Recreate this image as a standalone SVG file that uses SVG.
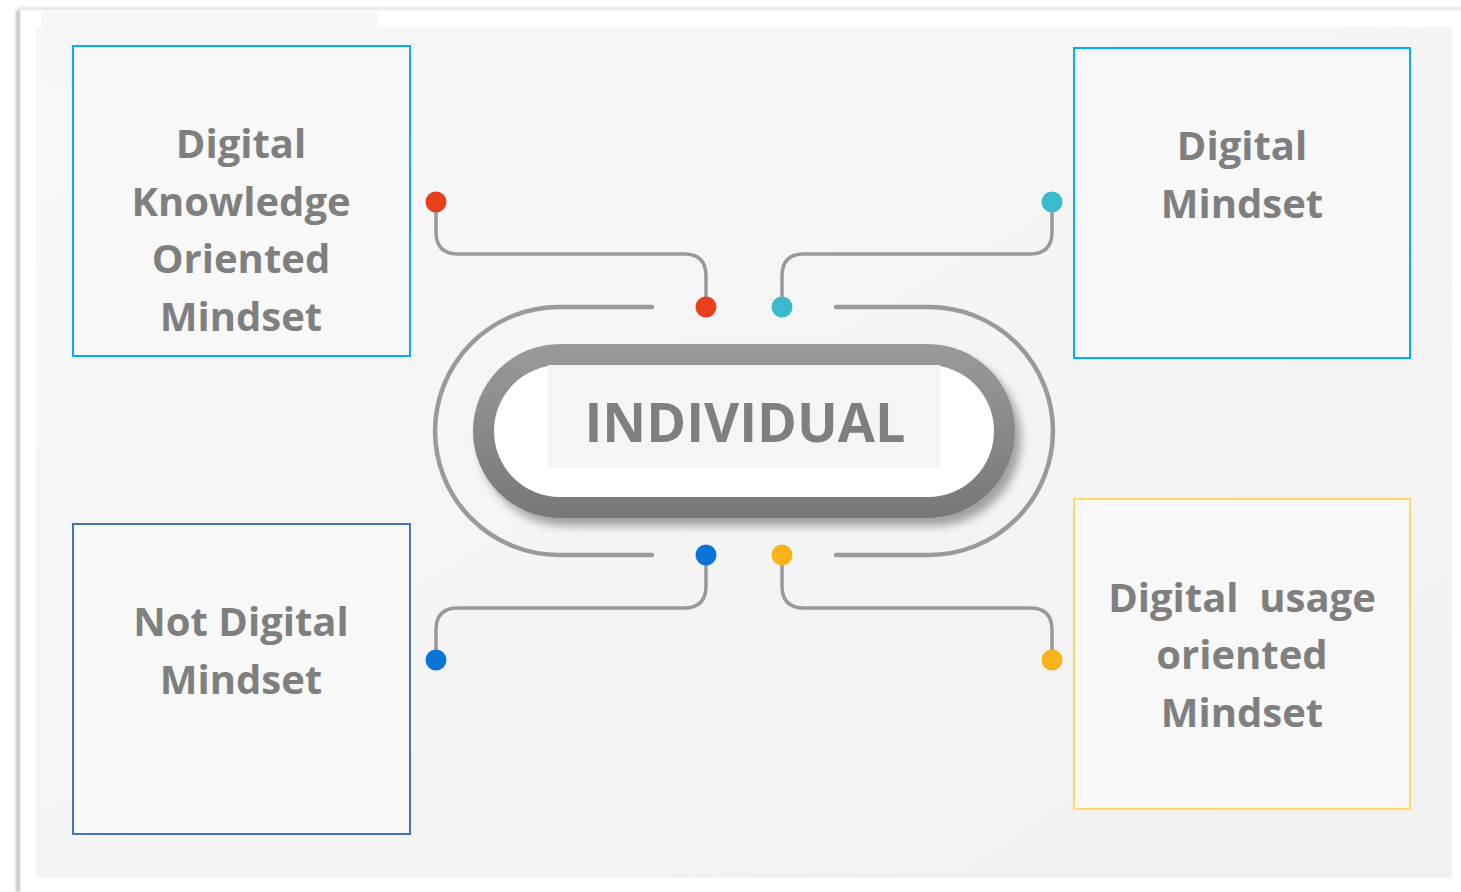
<svg xmlns="http://www.w3.org/2000/svg" width="1461" height="892" viewBox="0 0 1461 892">
<defs>
<linearGradient id="bg" x1="0" y1="0" x2="1" y2="1">
<stop offset="0" stop-color="#f8f8f8"/><stop offset="1" stop-color="#f1f1f1"/>
</linearGradient>
<linearGradient id="ring" x1="0" y1="0" x2="0" y2="1">
<stop offset="0" stop-color="#9a9a9a"/><stop offset="1" stop-color="#777"/>
</linearGradient>
<filter id="sh" x="-10%" y="-20%" width="130%" height="150%">
<feGaussianBlur in="SourceAlpha" stdDeviation="5"/><feOffset dx="6" dy="8"/>
<feComponentTransfer><feFuncA type="linear" slope="0.35"/></feComponentTransfer>
<feMerge><feMergeNode/><feMergeNode in="SourceGraphic"/></feMerge>
</filter>
<filter id="blur1" x="-50%" y="-50%" width="200%" height="200%"><feGaussianBlur stdDeviation="1.2"/></filter>
</defs>
<style>
.box{fill:#f8f8f8;stroke-width:2}
.lbl{font-family:"Open Sans","Liberation Sans",sans-serif;font-weight:700;font-size:40px;fill:#7f7f7f;text-anchor:middle}
.wire{fill:none;stroke:#999;stroke-width:3.5;stroke-linecap:round}
.arc{fill:none;stroke:#9a9a9a;stroke-width:4.5;stroke-linecap:round}
</style>
<rect width="1461" height="892" fill="#ffffff"/>
<rect x="16" y="10" width="4" height="882" fill="#c4c4c4" filter="url(#blur1)"/>
<rect x="18" y="7" width="1443" height="3" fill="#e4e4e4" filter="url(#blur1)"/>
<rect x="36" y="27" width="1416" height="851" fill="url(#bg)"/>
<rect x="42" y="12" width="336" height="71" fill="#f6f6f6"/>

<g id="connectors">
<path class="arc" d="M652,307 H559 A124,124 0 0 0 559,555 H652"/>
<path class="arc" d="M836,307 H929 A124,124 0 0 1 929,555 H836"/>
<path class="wire" d="M436,202 V232 Q436,254 458,254 H684 Q706,254 706,276 V307"/>
<path class="wire" d="M782,307 V276 Q782,254 804,254 H1030 Q1052,254 1052,232 V202"/>
<path class="wire" d="M706,555 V586 Q706,608 684,608 H458 Q436,608 436,630 V660"/>
<path class="wire" d="M782,555 V586 Q782,608 804,608 H1030 Q1052,608 1052,630 V660"/>
<circle cx="436" cy="202" r="10.5" fill="#e8401c"/>
<circle cx="706" cy="307" r="10.5" fill="#e8401c"/>
<circle cx="782" cy="307" r="10.5" fill="#3bb9cd"/>
<circle cx="1052" cy="202" r="10.5" fill="#3bb9cd"/>
<circle cx="706" cy="555" r="10.5" fill="#0b74d6"/>
<circle cx="436" cy="660" r="10.5" fill="#0b74d6"/>
<circle cx="782" cy="555" r="10.5" fill="#f6b41a"/>
<circle cx="1052" cy="660" r="10.5" fill="#f6b41a"/>
</g>

<g id="individual">
<rect x="473" y="344" width="542" height="174" rx="87" fill="url(#ring)" filter="url(#sh)"/>
<rect x="494" y="365" width="500" height="132" rx="66" fill="#ffffff"/>
<rect x="548" y="365" width="392" height="103" fill="#f5f5f5"/>
<text x="745" y="442" font-family="'Open Sans','Liberation Sans',sans-serif" font-weight="700" font-size="54" fill="#7f7f7f" text-anchor="middle">INDIVIDUAL</text>
</g>

<g id="n1">
<rect class="box" x="73" y="46" width="337" height="310" stroke="#00b0f0"/>
<text class="lbl"><tspan x="241" y="158">Digital</tspan><tspan x="241" y="216">Knowledge</tspan><tspan x="241" y="273">Oriented</tspan><tspan x="241" y="331">Mindset</tspan></text>
</g>
<g id="n2">
<rect class="box" x="1074" y="48" width="336" height="310" stroke="#00b0f0"/>
<text class="lbl"><tspan x="1242" y="160">Digital</tspan><tspan x="1242" y="218">Mindset</tspan></text>
</g>
<g id="n3">
<rect class="box" x="73" y="524" width="337" height="310" stroke="#4472c4"/>
<text class="lbl"><tspan x="241" y="636">Not Digital</tspan><tspan x="241" y="694">Mindset</tspan></text>
</g>
<g id="n4">
<rect class="box" x="1074" y="499" width="336" height="310" stroke="#ffd966"/>
<text class="lbl" xml:space="preserve"><tspan x="1242" y="612">Digital  usage</tspan><tspan x="1242" y="669">oriented</tspan><tspan x="1242" y="727">Mindset</tspan></text>
</g>
</svg>
